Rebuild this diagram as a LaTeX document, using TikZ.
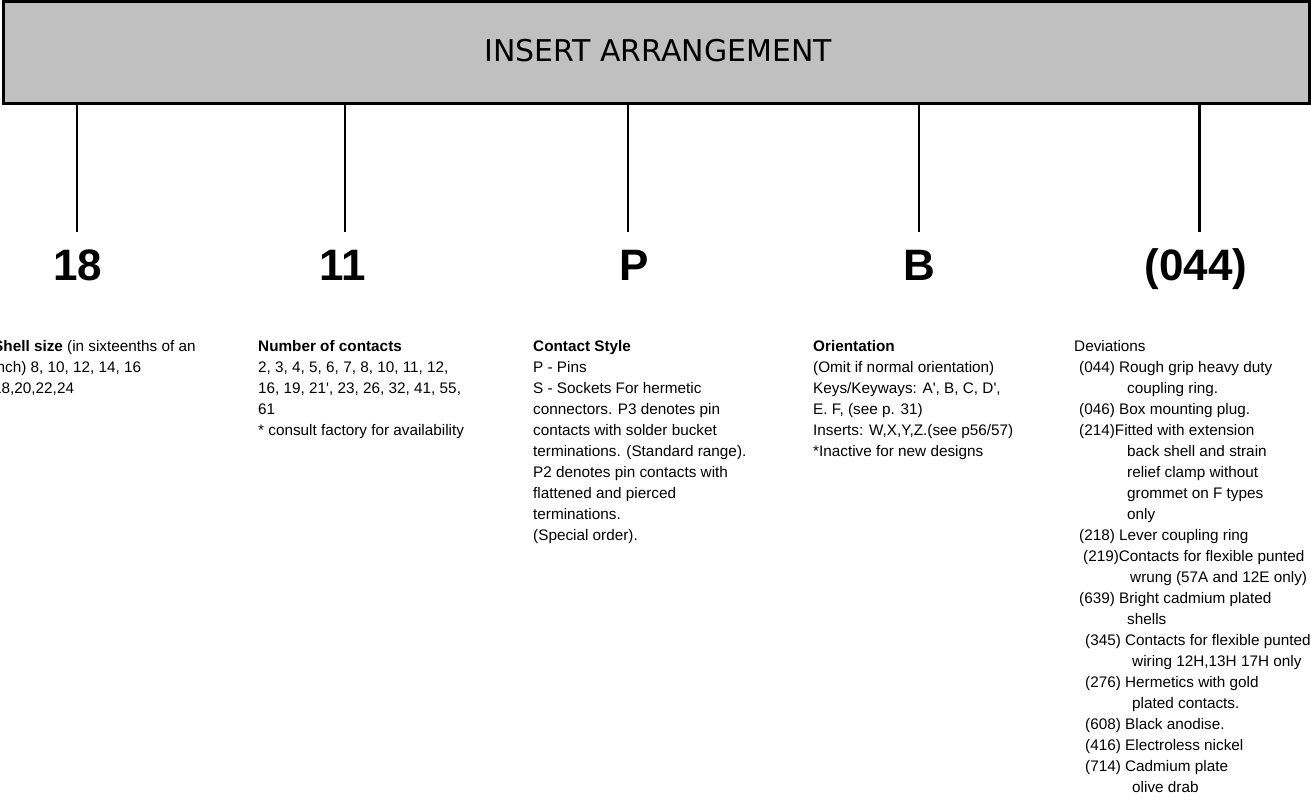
\documentclass[tikz,border=0pt]{standalone}
\usepackage{fontspec}
\newfontfamily\arialf{Liberation Sans}
\newfontfamily\verdf{DejaVu Sans}
\definecolor{barfill}{HTML}{C0C0C0}
\tikzset{
  barbox/.style={draw=black, fill=barfill, line width=3pt, inner sep=0pt, outer sep=0pt,
    minimum width=1306pt, minimum height=102pt},
  titletext/.style={anchor=base, inner sep=0pt, font=\verdf\fontsize{30}{36}\selectfont},
  biglabel/.style={anchor=base, inner sep=0pt, font=\arialf\bfseries\fontsize{44}{50}\selectfont},
  small/.style={anchor=base west, inner sep=0pt, font=\arialf\fontsize{15.3}{18}\selectfont},
  wire/.style={line width=2.2pt, black}
}
\begin{document}
\begin{tikzpicture}[x=1pt,y=-1pt]
\useasboundingbox (0,0) rectangle (1311,805);
\node[barbox] (bar) at (656.5,52.5) {};
\node[titletext] (title) at (658,62) {INSERT ARRANGEMENT};

\node[biglabel] (L1) at (78,280) {18};
\node[biglabel] (L2) at (343,280) {11};
\node[biglabel] (L3) at (634,280) {P};
\node[biglabel] (L4) at (919,280) {B};
\node[biglabel] (L5) at (1196,280) {(044)};

\coordinate (e1) at (77,232);
\coordinate (e2) at (345,232);
\coordinate (e3) at (628,232);
\coordinate (e4) at (919,232);
\coordinate (e5) at (1199.5,232);
\foreach \k in {1,...,5}
  \draw[wire] (bar.south -| e\k) -- (e\k);

\foreach \xx/\txt [count=\i] in {
  -7/{{\bfseries Shell size} (in sixteenths of an},
  -7/{inch) 8, 10, 12, 14, 16},
  -7/{18,20,22,24}}
  \node[small] (shell\i) at (\xx,{351+21*(\i-1)}) {\txt};

\foreach \xx/\txt [count=\i] in {
  258/{\bfseries Number of contacts},
  258/{2, 3, 4, 5, 6, 7, 8, 10, 11, 12,},
  258/{16, 19, 21', 23, 26, 32, 41, 55,},
  258/{61},
  258/{* consult factory for availability}}
  \node[small] (num\i) at (\xx,{351+21*(\i-1)}) {\txt};

\foreach \xx/\txt [count=\i] in {
  533/{\bfseries Contact Style},
  533/{P - Pins},
  533/{S - Sockets For hermetic},
  533/{connectors. P3 denotes pin},
  533/{contacts with solder bucket},
  533/{terminations. (Standard range).},
  533/{P2 denotes pin contacts with},
  533/{flattened and pierced},
  533/{terminations.},
  533/{(Special order).}}
  \node[small] (cs\i) at (\xx,{351+21*(\i-1)}) {\txt};

\foreach \xx/\txt [count=\i] in {
  813/{\bfseries Orientation},
  813/{(Omit if normal orientation)},
  813/{Keys/Keyways: A', B, C, D',},
  813/{E. F, (see p. 31)},
  813/{Inserts: W,X,Y,Z.(see p56/57)},
  813/{*Inactive for new designs}}
  \node[small] (or\i) at (\xx,{351+21*(\i-1)}) {\txt};

\foreach \xx/\txt [count=\i] in {
  1074/{Deviations},
  1079/{(044) Rough grip heavy duty},
  1127/{coupling ring.},
  1079/{(046) Box mounting plug.},
  1079/{(214)Fitted with extension},
  1127/{back shell and strain},
  1127/{relief clamp without},
  1127/{grommet on F types},
  1127/{only},
  1079/{(218) Lever coupling ring},
  1083/{(219)Contacts for flexible punted},
  1130/{wrung (57A and 12E only)},
  1079/{(639) Bright cadmium plated},
  1127/{shells},
  1085/{(345) Contacts for flexible punted},
  1132/{wiring 12H,13H 17H only},
  1085/{(276) Hermetics with gold},
  1132/{plated contacts.},
  1085/{(608) Black anodise.},
  1085/{(416) Electroless nickel},
  1085/{(714) Cadmium plate},
  1132/{olive drab}}
  \node[small] (dev\i) at (\xx,{351+21*(\i-1)}) {\txt};
\end{tikzpicture}
\end{document}
